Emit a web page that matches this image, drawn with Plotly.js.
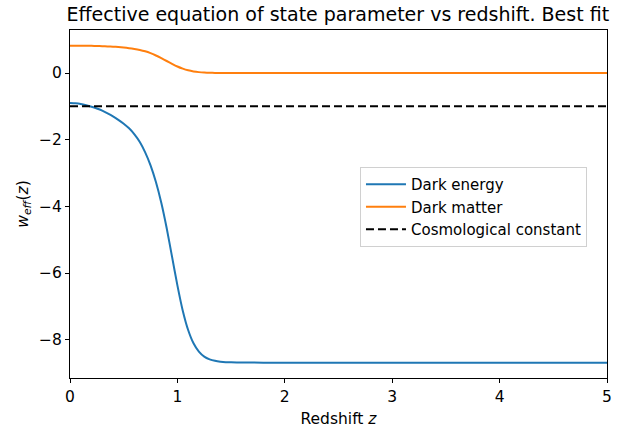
<!DOCTYPE html>
<html>
<head>
<meta charset="utf-8">
<script src="https://cdn.plot.ly/plotly-3.0.1.min.js"></script>
<style>html,body{margin:0;padding:0;background:#fff;}#chart{width:641px;height:430px;}</style>
</head>
<body>
<div id="chart"></div>
<script>
// Dark energy w_eff(z)
const zDE = [0, 0.05, 0.1, 0.15, 0.2, 0.25, 0.3, 0.35, 0.4, 0.45, 0.5, 0.55, 0.6, 0.65, 0.7, 0.75, 0.8, 0.85, 0.9, 0.95, 1.0, 1.05, 1.1, 1.15, 1.2, 1.25, 1.3, 1.35, 1.4, 1.45, 1.5, 1.6, 1.8, 2.0, 2.5, 3.0, 3.5, 4.0, 4.5, 5.0];
const wDE = [-0.90, -0.91, -0.93, -0.965, -1.01, -1.065, -1.13, -1.21, -1.30, -1.405, -1.52, -1.66, -1.84, -2.07, -2.38, -2.77, -3.27, -3.89, -4.65, -5.51, -6.37, -7.13, -7.71, -8.11, -8.36, -8.51, -8.59, -8.635, -8.66, -8.675, -8.68, -8.685, -8.69, -8.69, -8.69, -8.69, -8.69, -8.69, -8.69, -8.69];
// Dark matter w_eff(z)
const zDM = [0, 0.05, 0.1, 0.15, 0.2, 0.25, 0.3, 0.35, 0.4, 0.45, 0.5, 0.55, 0.6, 0.65, 0.7, 0.75, 0.8, 0.85, 0.9, 0.95, 1.0, 1.05, 1.1, 1.15, 1.2, 1.25, 1.3, 1.35, 1.4, 1.45, 1.5, 1.6, 1.8, 2.0, 2.5, 3.0, 3.5, 4.0, 4.5, 5.0];
const wDM = [0.82, 0.82, 0.82, 0.818, 0.815, 0.81, 0.805, 0.798, 0.79, 0.78, 0.765, 0.745, 0.72, 0.69, 0.65, 0.595, 0.525, 0.445, 0.36, 0.275, 0.195, 0.13, 0.08, 0.047, 0.026, 0.014, 0.007, 0.003, 0.001, 0.0, 0.0, 0.0, 0.0, 0.0, 0.0, 0.0, 0.0, 0.0, 0.0, 0.0];
// Cosmological constant
const zLam = [0, 5];
const wLam = [-1, -1];
const xTicks = [0, 1, 2, 3, 4, 5];
const yTicks = [-8, -6, -4, -2, 0];

const font = "DejaVu Sans, sans-serif";
const traces = [
  {x: zDE, y: wDE, mode: 'lines', name: 'Dark energy', line: {color: '#1f77b4', width: 2, shape: 'spline', smoothing: 0.6}},
  {x: zDM, y: wDM, mode: 'lines', name: 'Dark matter', line: {color: '#ff7f0e', width: 2, shape: 'spline', smoothing: 0.6}},
  {x: zLam, y: wLam, mode: 'lines', name: 'Cosmological constant', line: {color: '#000000', width: 2, dash: '8px,4px'}}
];
const axisCommon = {
  showline: true, mirror: true, linecolor: '#000', linewidth: 1,
  ticks: 'outside', ticklen: 4, tickcolor: '#000', tickwidth: 1,
  showgrid: false, zeroline: false,
  tickfont: {family: font, size: 15.5, color: '#000'}
};
const layout = {
  width: 641, height: 430,
  margin: {l: 70, r: 34, t: 30, b: 52},
  paper_bgcolor: '#fff', plot_bgcolor: '#fff',
  font: {family: font, color: '#000'},
  title: {text: 'Effective equation of state parameter vs redshift. Best fit', font: {family: font, size: 19, color: '#000'}, x: 0.527, xanchor: 'center', y: 0.967, yanchor: 'middle'},
  xaxis: Object.assign({}, axisCommon, {range: [0, 5], tickvals: xTicks, ticktext: xTicks.map(String),
    title: {text: 'Redshift <i>z</i>', font: {family: font, size: 15.5, color: '#000'}, standoff: 8}}),
  yaxis: Object.assign({}, axisCommon, {range: [-9.15, 1.29], tickvals: yTicks, ticktext: yTicks.map(v => v < 0 ? '\u2212' + Math.abs(v) : String(v)),
    title: {text: '<i>w</i><sub><i>eff</i></sub>(<i>z</i>)', font: {family: font, size: 15.5, color: '#000'}, standoff: 6}}),
  showlegend: true,
  legend: {x: 0.54, y: 0.606, xanchor: 'left', yanchor: 'top', bgcolor: 'rgba(255,255,255,0.8)', bordercolor: '#d0d0d0', borderwidth: 1,
    font: {family: font, size: 15, color: '#000'}, tracegroupgap: 0, itemwidth: 40}
};
Plotly.newPlot('chart', traces, layout, {displayModeBar: false, staticPlot: true});
</script>
</body>
</html>
